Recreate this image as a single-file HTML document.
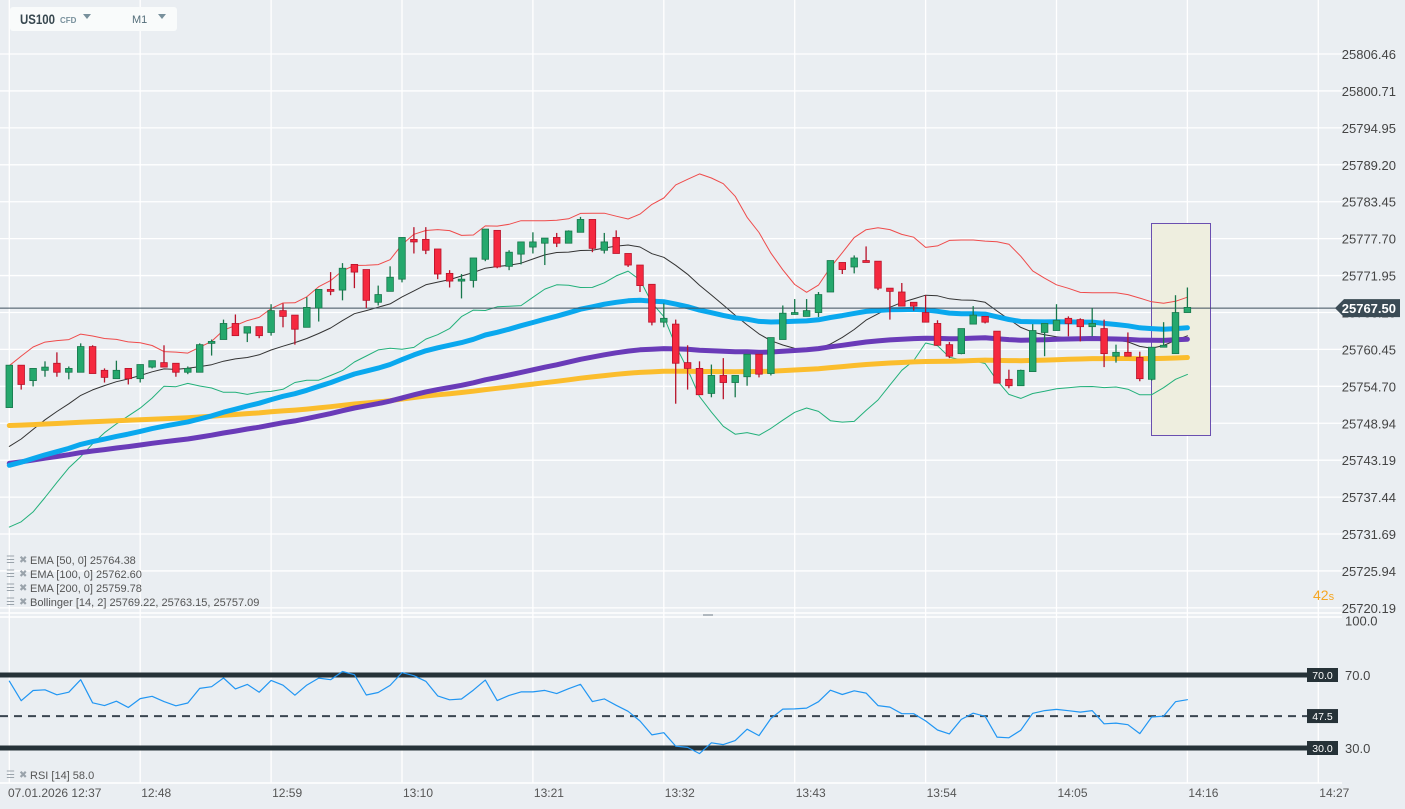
<!DOCTYPE html>
<html><head><meta charset="utf-8"><style>
html,body{margin:0;padding:0;background:#eaeef2;}
svg{display:block;font-family:"Liberation Sans",Arial,sans-serif;}
</style></head><body>
<svg id="chart" width="1405" height="809" viewBox="0 0 1405 809" xmlns="http://www.w3.org/2000/svg">
<rect x="0" y="0" width="1405" height="809" fill="#eaeef2"/>
<g id="grid"></g>
<g id="rsiPane"></g>
<g id="indicators"></g>
<g id="candles"></g>
<g id="axes"></g>
<g>
 <rect x="10" y="7" width="167" height="24" rx="3" fill="#f9fbfb"/>
 <text x="20" y="24" font-size="14" font-weight="bold" fill="#37474f" textLength="35" lengthAdjust="spacingAndGlyphs">US100</text>
 <text x="60" y="23" font-size="8" font-weight="bold" fill="#78909c">CFD</text>
 <path d="M83 14 L91 14 L87 19 Z" fill="#78909c"/>
 <text x="132" y="23" font-size="11" fill="#546e7a">M1</text>
 <path d="M158 14 L166 14 L162 19 Z" fill="#78909c"/>
</g>
<g font-size="11" fill="#555">
 <text x="30" y="564">EMA [50, 0] 25764.38</text>
 <text x="30" y="578">EMA [100, 0] 25762.60</text>
 <text x="30" y="592">EMA [200, 0] 25759.78</text>
 <text x="30" y="606">Bollinger  [14, 2] 25769.22,  25763.15,  25757.09</text>
 <text x="30" y="779">RSI [14] 58.0</text>
 <g fill="#9aa3ab" font-size="10">
  <text x="6" y="563">☰</text><text x="19" y="563">✖</text>
  <text x="6" y="577">☰</text><text x="19" y="577">✖</text>
  <text x="6" y="591">☰</text><text x="19" y="591">✖</text>
  <text x="6" y="605">☰</text><text x="19" y="605">✖</text>
  <text x="6" y="778">☰</text><text x="19" y="778">✖</text>
 </g>
</g>
<text x="1313" y="600" font-size="14" fill="#f5a623">42<tspan font-size="11">s</tspan></text>
</svg>
<script>
const opens = [25751.7,25758.3,25755.9,25757.5,25758.6,25757.2,25757.2,25761.2,25757.5,25756.2,25757.8,25756.2,25758.0,25758.7,25758.6,25757.2,25757.2,25761.7,25762.3,25764.8,25763.3,25764.3,25763.4,25766.8,25766.1,25764.2,25767.2,25770.1,25770.0,25774.0,25773.2,25768.1,25769.8,25771.7,25777.9,25777.9,25776.4,25772.6,25771.4,25771.5,25774.8,25779.3,25773.7,25775.6,25776.7,25777.3,25778.2,25777.3,25779.0,25781.0,25776.2,25778.2,25775.7,25773.9,25770.9,25765.0,25764.7,25758.7,25757.8,25753.9,25756.7,25755.6,25756.5,25760.0,25757.0,25762.3,25766.2,25765.9,25766.5,25769.7,25774.3,25773.6,25774.6,25774.5,25770.3,25769.7,25768.1,25766.5,25764.8,25761.5,25760.1,25764.7,25765.9,25763.6,25756.1,25755.1,25757.3,25763.4,25763.7,25765.6,25765.4,25764.3,25764.0,25759.7,25760.3,25759.5,25756.1,25761.1,25760.1,25766.5];
const highs = [25758.3,25758.3,25757.8,25758.9,25760.3,25758.1,25761.7,25761.4,25757.8,25759.0,25757.8,25758.4,25759.0,25761.4,25758.6,25758.1,25761.7,25762.3,25765.4,25766.2,25764.3,25764.3,25767.8,25767.9,25766.1,25768.9,25770.1,25772.8,25774.2,25774.0,25773.2,25770.7,25773.7,25778.2,25779.8,25779.8,25776.4,25773.1,25772.5,25775.0,25779.5,25779.3,25776.2,25777.5,25779.0,25778.1,25778.9,25779.3,25781.4,25781.0,25778.9,25779.3,25775.7,25773.9,25770.9,25767.9,25765.4,25761.4,25758.9,25758.4,25759.4,25756.7,25760.0,25760.0,25762.6,25767.6,25768.6,25768.6,25769.7,25774.6,25774.3,25775.4,25776.8,25774.5,25770.3,25771.1,25768.1,25769.2,25765.3,25761.9,25764.0,25767.5,25765.9,25763.6,25757.6,25757.6,25764.7,25764.8,25767.8,25765.9,25765.6,25767.2,25765.4,25761.5,25763.4,25760.4,25761.1,25765.0,25769.2,25770.4];
const lows = [25751.7,25754.5,25755.0,25756.5,25756.5,25756.1,25757.2,25757.0,25755.6,25756.2,25755.3,25755.6,25757.8,25758.0,25756.5,25756.9,25757.2,25759.8,25762.3,25762.9,25761.9,25762.5,25762.9,25764.2,25761.5,25764.2,25765.1,25769.2,25768.4,25770.3,25767.2,25767.6,25769.8,25771.2,25775.7,25775.6,25771.7,25770.4,25768.7,25770.4,25774.5,25773.4,25773.1,25774.0,25775.7,25773.9,25776.7,25777.3,25779.0,25775.9,25775.7,25775.7,25773.6,25769.7,25764.5,25764.2,25752.3,25754.5,25753.7,25753.3,25753.0,25753.3,25755.1,25756.4,25756.7,25762.3,25766.2,25765.9,25765.8,25769.7,25772.5,25772.6,25774.3,25770.0,25765.4,25767.5,25766.8,25765.0,25761.4,25759.4,25760.0,25764.7,25764.8,25755.5,25754.7,25755.1,25757.3,25759.7,25763.7,25762.8,25762.0,25762.8,25758.0,25758.7,25759.7,25755.8,25755.9,25761.1,25760.1,25766.5];
const closes = [25758.3,25755.3,25757.8,25758.0,25757.2,25757.8,25761.2,25757.0,25756.4,25757.5,25756.2,25758.4,25759.0,25758.0,25757.2,25757.8,25761.5,25762.0,25764.8,25762.9,25764.3,25762.9,25766.8,25765.9,25763.9,25767.3,25770.1,25769.8,25773.4,25772.8,25768.4,25769.3,25772.0,25778.2,25777.5,25776.2,25772.5,25771.4,25771.7,25775.0,25779.5,25773.6,25775.9,25777.5,25777.5,25778.1,25777.3,25779.2,25781.0,25776.5,25777.5,25775.7,25773.9,25770.7,25765.0,25765.6,25758.6,25757.8,25753.7,25756.7,25755.6,25756.7,25760.0,25756.9,25762.6,25766.4,25766.5,25766.8,25769.3,25774.6,25773.2,25775.0,25774.3,25770.3,25769.8,25767.5,25767.5,25765.0,25761.4,25759.7,25764.0,25766.1,25765.0,25755.5,25755.1,25757.5,25763.7,25764.8,25765.3,25764.8,25764.3,25764.8,25760.1,25760.3,25759.7,25756.2,25761.1,25761.4,25766.5,25767.3];
const historyCloses = [25739,25737,25737,25739,25741,25743,25745,25747,25749,25750,25751,25751,25751.7];
const emaSeeds = [25742.7, 25743.0, 25748.9];
const emaPeriods = [50, 100, 200];
const rsiSeedGain = 0.8;
const rsiSeedLoss = 0.4;
const lastPrice = 25767.50;
const priceTicks = [25806.46,25800.71,25794.95,25789.20,25783.45,25777.70,25771.95,25766.20,25760.45,25754.70,25748.94,25743.19,25737.44,25731.69,25725.94,25720.19];
const timeLabels = ["07.01.2026  12:37","12:48","12:59","13:10","13:21","13:32","13:43","13:54","14:05","14:16","14:27"];
const rsiLevels = [70, 47.5, 30];

const NS = "http://www.w3.org/2000/svg";
function mk(tag, attrs, parent){ const e=document.createElementNS(NS,tag); for(const k in attrs) e.setAttribute(k,attrs[k]); parent.appendChild(e); return e; }
const xOf = i => 9.3 + i*11.9;
const yOf = p => 56 + (25806.46 - p)*6.42;
const yR = v => 748 - (v-30)*1.825;

const grid = document.getElementById('grid');
const axes = document.getElementById('axes');
priceTicks.forEach(p=>{
  const y=yOf(p)-2;
  const l=mk('line',{x1:0,x2:1342,y1:y,y2:y,stroke:'#ffffff','stroke-width':1.3},grid);
  
  
  const t=mk('text',{x:1396,y:y+5,'text-anchor':'end','font-size':13,fill:'#444'},axes);
  t.textContent=p.toFixed(2);
  
  
});
timeLabels.forEach((s,k)=>{
  const x=xOf(k*11);
  const l=mk('line',{x1:x,x2:x,y1:0,y2:783,stroke:'#ffffff','stroke-width':1.3},grid);
  
  
  const t=mk('text',{x:k===0?8:x+1,y:797,'font-size':12,fill:'#555'},axes);
  t.textContent=s;
  
  
});
[613,617,783].forEach(y=>{ const l=mk('line',{x1:0,x2:1342,y1:y,y2:y,stroke:'#ffffff','stroke-width':1.5},grid);
  
   });
const hdl=mk('line',{x1:703,x2:713,y1:615,y2:615,stroke:'#b0b8bf','stroke-width':2},grid);



const hb=mk('rect',{x:1151.5,y:223.5,width:59,height:212,fill:'#eeeedf',stroke:'#6a4fb0','stroke-width':1},grid);



const ind=document.getElementById('indicators');
function poly(vals, color, w, name, parent, yfn){
  const pts=vals.map((v,i)=>v==null?null:xOf(i).toFixed(1)+','+yfn(v).toFixed(1)).filter(s=>s).join(' ');
  const p=mk('polyline',{points:pts,fill:'none',stroke:color,'stroke-width':w,'stroke-linejoin':'round','stroke-linecap':'round'},parent);
  
  
}
const all=historyCloses.concat(closes);
const up=[],mid=[],lo=[];
for(let i=0;i<closes.length;i++){
  const w=all.slice(i+historyCloses.length-13,i+historyCloses.length+1);
  const m=w.reduce((a,b)=>a+b,0)/w.length;
  const sd=Math.sqrt(w.reduce((a,b)=>a+(b-m)*(b-m),0)/w.length);
  mid.push(m); up.push(m+2*sd); lo.push(m-2*sd);
}
poly(up,'#ef4b4b',1,'bollinger-upper',ind,yOf);
poly(lo,'#22b07a',1,'bollinger-lower',ind,yOf);
poly(mid,'#333',1,'bollinger-middle',ind,yOf);
const emaColors=['#0aa8ee','#6a3bb8','#fbbd2d'];
const emaNames=['ema-50','ema-100','ema-200'];
[2,1,0].forEach(k=>{
  const a=2/(emaPeriods[k]+1); const e=[]; let v=emaSeeds[k];
  closes.forEach((c,i)=>{ if(i>0) v=v+a*(c-v); e.push(v); });
  poly(e,emaColors[k],5,emaNames[k],ind,yOf);
});
const ly=yOf(lastPrice)+2;
const lpl=mk('line',{x1:0,x2:1336,y1:ly,y2:ly,stroke:'#3d4f5c','stroke-width':1},ind);



const cg=document.getElementById('candles');
closes.forEach((c,i)=>{
  const o=opens[i],up2=c>=o,x=xOf(i);
  const fill=up2?'#25a86d':'#f5293f', st=up2?'#17774b':'#b8122a';
  const g=mk('g',{},cg);
  
  
  mk('line',{x1:x,x2:x,y1:yOf(highs[i]),y2:yOf(lows[i]),stroke:st,'stroke-width':1.3},g);
  const yt=yOf(Math.max(o,c)), yb=yOf(Math.min(o,c));
  mk('rect',{x:x-3.3,y:yt,width:6.6,height:Math.max(yb-yt,1.5),fill:fill,stroke:st,'stroke-width':0.8},g);
});

const tag=mk('path',{d:`M1335 ${ly} L1344 ${ly-9} L1400 ${ly-9} L1400 ${ly+9} L1344 ${ly+9} Z`,fill:'#3b4b55'},axes);


const tt=mk('text',{x:1396,y:ly+5,'text-anchor':'end','font-size':13,'font-weight':'bold',fill:'#fff'},axes);
tt.textContent=lastPrice.toFixed(2);



const rp=document.getElementById('rsiPane');
rsiLevels.forEach(v=>{
  const y=yR(v), dashed=v!==70&&v!==30;
  const l=mk('line',{x1:0,x2:1308,y1:y,y2:y,stroke:dashed?'#3a4650':'#263238','stroke-width':dashed?2:5},rp);
  if(dashed) l.setAttribute('stroke-dasharray','8 6');
  
  
  const b=mk('rect',{x:1307,y:y-7,width:31,height:14,fill:'#263238'},rp);
  
  
  const t=mk('text',{x:1322.5,y:y+4,'text-anchor':'middle','font-size':10.5,fill:'#fff'},rp);
  t.textContent=v.toFixed(1);
  
  
});
[100,70,30].forEach(v=>{
  const t=mk('text',{x:1345,y:yR(v)+5,'font-size':13,fill:'#444'},axes);
  t.textContent=v.toFixed(1);
  
  
});
let ag=rsiSeedGain, al=rsiSeedLoss; const rsi=[];
closes.forEach((c,i)=>{
  if(i>0){ const d=c-closes[i-1]; ag=(ag*13+Math.max(d,0))/14; al=(al*13+Math.max(-d,0))/14; }
  rsi.push(100-100/(1+ag/al));
});
poly(rsi,'#2196f3',1.2,'rsi-line',rp,yR);
</script>
</body></html>
